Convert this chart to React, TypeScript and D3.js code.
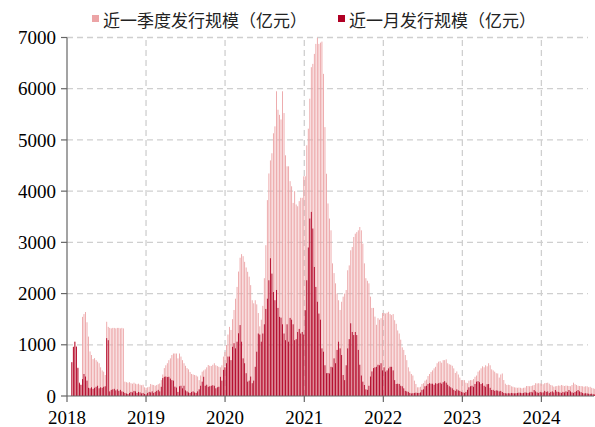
import React from 'react';
import * as d3 from 'd3';

// weekly issuance, 亿元. q = 近一季度, m = 近一月
const q2018 = [660, 960, 1060, 980, 560, 270, 230, 1545, 1600, 1640, 1440, 1160, 870, 800, 720, 740, 700, 670, 640, 560, 500, 475, 410, 1450, 1350, 1330, 1320, 1330, 1330, 1320, 1330, 1330, 1320, 1330, 1320, 280, 270, 260, 270, 250, 240, 260, 240, 230, 240, 220, 210, 220, 170, 160];
const m2018 = [660, 960, 1060, 960, 545, 250, 215, 330, 430, 380, 300, 160, 150, 170, 140, 160, 180, 200, 150, 170, 160, 180, 190, 1130, 1090, 90, 120, 130, 140, 110, 130, 100, 120, 90, 80, 60, 50, 40, 60, 80, 70, 100, 90, 60, 80, 70, 50, 60, 40, 30];
const q2019 = [170, 180, 235, 220, 215, 200, 215, 230, 245, 310, 420, 545, 600, 640, 700, 735, 800, 830, 830, 830, 735, 830, 770, 700, 640, 590, 545, 520, 470, 430, 420, 410, 400, 380, 310, 400, 475, 500, 520, 560, 605, 590, 585, 610, 640, 600, 585, 570, 560, 600, 770, 860];
const m2019 = [60, 80, 70, 90, 60, 80, 100, 120, 90, 180, 350, 375, 380, 370, 375, 340, 310, 300, 183, 165, 80, 190, 200, 150, 200, 110, 90, 70, 60, 80, 90, 70, 60, 90, 130, 200, 280, 375, 200, 220, 180, 190, 200, 210, 200, 150, 170, 180, 375, 300, 510, 560];
const q2020 = [995, 1200, 1350, 1290, 1500, 1680, 1900, 2130, 2430, 2700, 2770, 2730, 2620, 2510, 2425, 2330, 2165, 1870, 1810, 1870, 1790, 1620, 1360, 1490, 1760, 2300, 2945, 3825, 4345, 4600, 4740, 5130, 5265, 5950, 5590, 5490, 5400, 5950, 5525, 4700, 4485, 4485, 4195, 4095, 3770, 4000, 3740, 3705, 3805, 3870, 3870, 4290];
const m2020 = [640, 770, 770, 700, 960, 1030, 930, 1060, 1225, 1385, 1060, 735, 640, 445, 280, 300, 380, 250, 300, 570, 865, 1220, 1200, 1060, 1220, 1400, 1700, 1900, 2260, 2690, 2390, 2030, 1870, 2070, 1720, 1545, 1530, 1400, 1220, 1090, 1400, 1060, 1525, 1490, 1400, 1090, 1110, 1250, 1310, 1220, 1250, 1200];
const q2021 = [4290, 4895, 5220, 5805, 6420, 6485, 6680, 6875, 6995, 6875, 6900, 6920, 6290, 5250, 4340, 3760, 3465, 3235, 2590, 2400, 2200, 2000, 1870, 1680, 1840, 1940, 2000, 2070, 2455, 2550, 2845, 2910, 3105, 3170, 3200, 3235, 3300, 3235, 2975, 2590, 2300, 2250, 2200, 1940, 1720, 1720, 1550, 1390, 1520, 1490, 1520, 1620, 1620];
const m2021 = [1675, 2260, 2900, 3465, 3595, 3270, 2520, 2130, 1840, 1610, 1490, 930, 865, 600, 445, 450, 440, 570, 560, 735, 640, 900, 1060, 930, 800, 410, 310, 600, 930, 1110, 1420, 1250, 1190, 1250, 1190, 900, 610, 400, 280, 215, 130, 120, 200, 380, 480, 545, 560, 570, 610, 600, 640, 500, 560];
const q2022 = [1610, 1625, 1645, 1600, 1580, 1600, 1480, 1410, 1280, 1220, 1100, 950, 900, 800, 700, 560, 480, 430, 400, 300, 235, 170, 170, 180, 235, 250, 300, 320, 390, 430, 470, 500, 540, 570, 640, 670, 680, 650, 700, 700, 715, 640, 620, 610, 590, 540, 450, 480, 420, 360, 310, 310];
const m2022 = [475, 500, 540, 570, 570, 500, 310, 235, 240, 235, 200, 190, 150, 100, 90, 80, 60, 50, 55, 60, 65, 60, 60, 70, 120, 130, 190, 200, 235, 250, 240, 240, 220, 250, 240, 250, 260, 240, 270, 290, 260, 220, 190, 170, 150, 120, 100, 130, 110, 100, 80, 70];
const q2023 = [310, 260, 250, 300, 310, 310, 330, 375, 400, 475, 500, 540, 580, 560, 600, 580, 640, 600, 520, 500, 475, 445, 440, 360, 420, 440, 312, 240, 215, 220, 215, 190, 182, 170, 165, 160, 165, 160, 150, 160, 165, 195, 195, 190, 195, 205, 215, 250, 245, 250, 245, 240];
const m2023 = [60, 80, 120, 170, 190, 200, 180, 235, 280, 290, 270, 235, 250, 200, 180, 230, 234, 160, 117, 120, 100, 110, 105, 90, 100, 78, 60, 55, 50, 55, 52, 60, 55, 52, 55, 60, 65, 62, 55, 60, 70, 65, 60, 70, 80, 70, 117, 90, 70, 60, 80, 70];
const q2024 = [230, 250, 255, 260, 240, 215, 205, 182, 190, 195, 205, 200, 215, 205, 195, 205, 200, 195, 190, 215, 260, 230, 215, 200, 195, 195, 190, 182, 190, 190, 172, 180, 160, 150, 140];
const m2024 = [70, 100, 80, 90, 60, 80, 90, 70, 117, 85, 80, 70, 60, 80, 70, 90, 80, 117, 90, 70, 60, 80, 95, 117, 90, 75, 60, 50, 55, 50, 45, 40, 45, 35, 30];

const firstWeek = new Date(2018, 0, 19);
const yearTicks = [2018, 2019, 2020, 2021, 2022, 2023, 2024];
const valueTicks = [0, 1000, 2000, 3000, 4000, 5000, 6000, 7000];
const legendNames = ['近一季度发行规模（亿元）', '近一月发行规模（亿元）'];

const W = 595, H = 427;
const LIGHT = '#eca4a6';
const DARK = '#b00024';

export default function App() {
  const quarter = [...q2018, ...q2019, ...q2020, ...q2021, ...q2022, ...q2023, ...q2024];
  const month = [...m2018, ...m2019, ...m2020, ...m2021, ...m2022, ...m2023, ...m2024];
  const dates = quarter.map((_, i) => d3.timeDay.offset(firstWeek, 7 * i));

  const x = d3.scaleTime().domain([new Date(2018, 0, 1), new Date(2024, 7, 31)]).range([67, 594]);
  const y = d3.scaleLinear().domain([0, 7000]).range([396, 37.5]);
  const bw = 0.9;
  const serif = '"Liberation Serif", "Times New Roman", serif';
  const cjk = '"Noto Sans CJK SC", sans-serif';

  return (
    <svg width={W} height={H} style={{ position: 'absolute', left: 0, top: 0, background: '#fff' }}>
      {/* grid */}
      <g stroke="#cfcfcf" strokeWidth={1.3} strokeDasharray="6,4" fill="none">
        {valueTicks.slice(1).map(v => (
          <line key={'h' + v} x1={67} x2={588} y1={y(v)} y2={y(v)} />
        ))}
        {yearTicks.slice(1).map(t => (
          <line key={'v' + t} x1={x(new Date(t, 0, 1))} x2={x(new Date(t, 0, 1))} y1={y(0)} y2={y(7000)} />
        ))}
      </g>
      {/* bars */}
      <g fill={LIGHT}>
        {quarter.map((v, i) => (
          <rect key={'q' + i} x={x(dates[i]) + 0.5} y={y(v)} width={bw} height={y(0) - y(v)} />
        ))}
      </g>
      <g fill={DARK}>
        {month.map((v, i) => (
          <rect key={'m' + i} x={x(dates[i]) + 0.5} y={y(v)} width={bw} height={y(0) - y(v)} />
        ))}
      </g>
      {/* y axis */}
      <g>
        <line x1={67} x2={67} y1={y(7000)} y2={y(0)} stroke="#666" strokeWidth={1.2} />
        {valueTicks.map(v => (
          <g key={v} transform={`translate(0,${y(v)})`}>
            <line x1={61} x2={67} stroke="#666" strokeWidth={1.2} />
            <text x={56} dy="0.35em" textAnchor="end" style={{ fontFamily: serif, fontSize: 19, fill: '#000' }}>
              {v}
            </text>
          </g>
        ))}
      </g>
      {/* x axis */}
      <g>
        <line x1={67} x2={594} y1={y(0)} y2={y(0)} stroke="#666" strokeWidth={1.2} />
        {yearTicks.map(t => (
          <g key={t} transform={`translate(${x(new Date(t, 0, 1))},${y(0)})`}>
            <line y1={0} y2={6} stroke="#666" strokeWidth={1.2} />
            <text y={28} textAnchor="middle" style={{ fontFamily: serif, fontSize: 19, fill: '#000' }}>
              {t}
            </text>
          </g>
        ))}
      </g>
      {/* legend */}
      <g>
        <rect x={92} y={15} width={7} height={7} fill={LIGHT} />
        <text x={103} y={19} dominantBaseline="central" style={{ fontFamily: cjk, fontSize: 17, fill: '#222' }}>
          {legendNames[0]}
        </text>
        <rect x={338} y={15} width={7} height={7} fill={DARK} />
        <text x={349} y={19} dominantBaseline="central" style={{ fontFamily: cjk, fontSize: 17, fill: '#222' }}>
          {legendNames[1]}
        </text>
      </g>
    </svg>
  );
}
